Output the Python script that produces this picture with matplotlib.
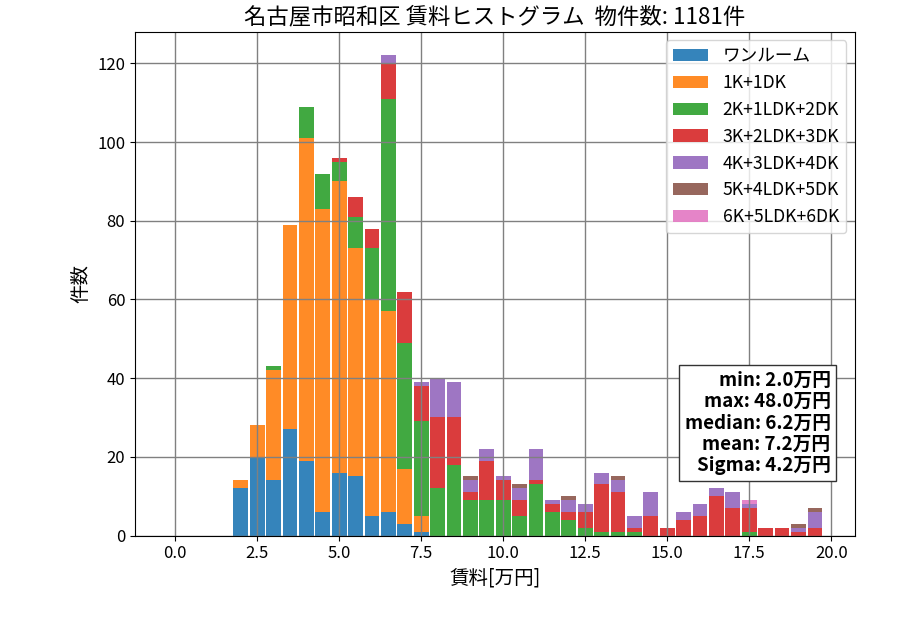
import numpy as np
import matplotlib
matplotlib.use('Agg')
from matplotlib import pyplot as plt

plt.rcParams['font.family'] = ['Noto Sans CJK JP', 'DejaVu Sans']

# 賃料ビン (万円), 0.5刻み
bins = [i * 0.5 for i in range(40)]

labels = ['ワンルーム', '1K+1DK', '2K+1LDK+2DK', '3K+2LDK+3DK',
          '4K+3LDK+4DK', '5K+4LDK+5DK', '6K+5LDK+6DK']

oneroom = [0, 0, 0, 0, 12, 20, 14, 27, 19, 6, 16, 15, 5, 6, 3, 1,
           0, 0, 0, 0, 0, 0, 0, 0, 0, 0, 0, 0, 0, 0, 0, 0, 0, 0, 0, 0, 0, 0, 0, 0]
k1 = [0, 0, 0, 0, 2, 8, 28, 52, 82, 77, 74, 58, 55, 51, 14, 4,
      0, 0, 0, 0, 0, 0, 0, 0, 0, 0, 0, 0, 0, 0, 0, 0, 0, 0, 0, 0, 0, 0, 0, 0]
k2 = [0, 0, 0, 0, 0, 0, 1, 0, 8, 9, 5, 8, 13, 54, 32, 24,
      12, 18, 9, 9, 9, 5, 13, 6, 4, 2, 1, 1, 1, 0, 0, 0, 0, 0, 0, 1, 0, 0, 0, 0]
k3 = [0, 0, 0, 0, 0, 0, 0, 0, 0, 0, 1, 5, 5, 9, 13, 9,
      18, 12, 2, 10, 5, 4, 1, 2, 2, 4, 12, 10, 1, 5, 2, 4, 5, 10, 7, 6, 2, 2, 1, 2]
k4 = [0, 0, 0, 0, 0, 0, 0, 0, 0, 0, 0, 0, 0, 2, 0, 1,
      10, 9, 3, 3, 1, 3, 8, 1, 3, 2, 3, 3, 3, 6, 0, 2, 3, 2, 4, 1, 0, 0, 1, 4]
k5 = [0, 0, 0, 0, 0, 0, 0, 0, 0, 0, 0, 0, 0, 0, 0, 0,
      0, 0, 1, 0, 0, 1, 0, 0, 1, 0, 0, 1, 0, 0, 0, 0, 0, 0, 0, 0, 0, 0, 1, 1]
k6 = [0, 0, 0, 0, 0, 0, 0, 0, 0, 0, 0, 0, 0, 0, 0, 0,
      0, 0, 0, 0, 0, 0, 0, 0, 0, 0, 0, 0, 0, 0, 0, 0, 0, 0, 0, 1, 0, 0, 0, 0]

stats_text = 'min: 2.0万円\nmax: 48.0万円\nmedian: 6.2万円\nmean: 7.2万円\nSigma: 4.2万円'
title = '名古屋市昭和区 賃料ヒストグラム  物件数: 1181件'

fig, ax = plt.subplots(figsize=(9, 6.3), dpi=100)
fig.subplots_adjust(left=0.15, right=0.95, bottom=0.15, top=0.95)

bottom = np.zeros(len(bins))
for cnt, lab in zip([oneroom, k1, k2, k3, k4, k5, k6], labels):
    ax.bar(bins, cnt, width=0.45, bottom=bottom, label=lab, alpha=0.9)
    bottom += np.array(cnt)

ax.set_ylim(0, bottom.max() * 1.05)
ax.grid(True, color='gray', linewidth=1)
ax.set_title(title, fontsize=16.1)
ax.set_xlabel('賃料[万円]', fontsize=14)
ax.set_ylabel('件数', fontsize=14)
ax.tick_params(labelsize=12)
ax.legend(loc='upper right', fontsize=12.7)
ax.text(0.966, 0.12, stats_text, transform=ax.transAxes, ha='right', va='bottom',
        fontsize=13.5, fontweight='bold', linespacing=1.15,
        bbox=dict(boxstyle='square', facecolor='white', edgecolor='#333333'))

plt.savefig('out.png')
